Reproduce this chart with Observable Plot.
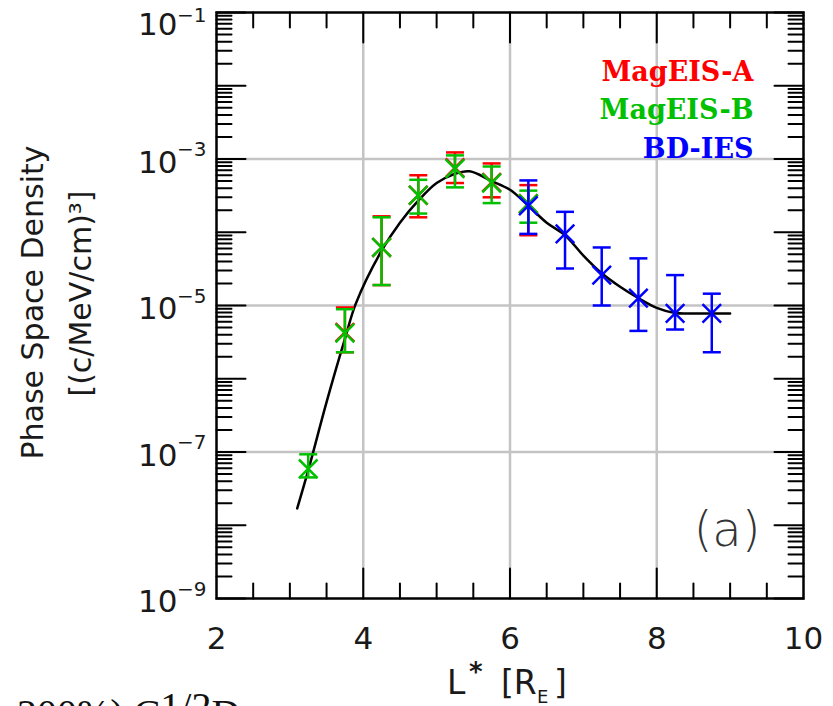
<!DOCTYPE html>
<html>
<head>
<meta charset="utf-8">
<script src="https://cdn.jsdelivr.net/npm/d3@7"></script>
<script src="https://cdn.jsdelivr.net/npm/@observablehq/plot@0.6"></script>
<style>
  html, body { margin: 0; padding: 0; background: #fff; overflow: hidden; }
  #wrap { position: relative; width: 833px; height: 706px; overflow: hidden; background: #fff; }
  #cut { position: absolute; left: 17px; top: 687px; font-family: "Liberation Serif", serif; font-size: 40px; line-height: 40px; white-space: nowrap; color: #111; }
  #cut span { vertical-align: 7px; }
</style>
</head>
<body>
<div id="wrap"><div id="chart"></div><div id="cut">200%) C<span>1/2</span>D</div></div>
<script>
// ---------- data ----------
const seriesNames  = ["MagEIS-A", "MagEIS-B", "BD-IES"];
const seriesColors = ["#ff0000", "#00c000", "#0000ff"];

// MagEIS-A
const lA   = [3.75, 4.25, 4.75, 5.25, 5.75, 6.25];
const psdA = [4.3e-6, 6.2e-5, 3.2e-4, 7.6e-4, 4.8e-4, 2.45e-4];
const loA  = [2.3e-6, 1.9e-5, 1.6e-4, 4.7e-4, 3.0e-4, 9.1e-5];
const hiA  = [9.4e-6, 1.65e-4, 6.0e-4, 1.23e-3, 8.7e-4, 4.4e-4];
// MagEIS-B
const lB   = [3.25, 3.75, 4.25, 4.75, 5.25, 5.75, 6.25];
const psdB = [5.9e-8, 4.2e-6, 6.2e-5, 3.2e-4, 7.4e-4, 4.7e-4, 2.45e-4];
const loB  = [4.5e-8, 2.3e-6, 1.9e-5, 1.8e-4, 4.1e-4, 2.5e-4, 1.35e-4];
const hiB  = [9.3e-8, 8.9e-6, 1.6e-4, 5.2e-4, 1.12e-3, 7.9e-4, 3.7e-4];
// BD-IES
const lC   = [6.25, 6.75, 7.25, 7.75, 8.25, 8.75];
const psdC = [2.3e-4, 9.5e-5, 2.6e-5, 1.26e-5, 7.8e-6, 7.8e-6];
const loC  = [9.5e-5, 3.2e-5, 1.0e-5, 4.5e-6, 4.7e-6, 2.3e-6];
const hiC  = [5.1e-4, 1.9e-4, 6.2e-5, 4.4e-5, 2.6e-5, 1.45e-5];

// fitted profile (black curve)
const fitL   = [3.1, 3.25, 3.5, 3.75, 3.9, 4.25, 4.5, 4.75, 5.0, 5.25, 5.45, 5.75, 6.0, 6.25, 6.5, 6.75, 7.0, 7.25, 7.5, 7.75, 8.0, 8.25, 8.5, 9.0];
const fitPSD = [1.7e-8, 5.6e-8, 4.8e-7, 3.5e-6, 1.07e-5, 5.6e-5, 1.35e-4, 2.7e-4, 4.7e-4, 6.3e-4, 6.8e-4, 5.0e-4, 3.8e-4, 2.3e-4, 1.35e-4, 9.1e-5, 4.8e-5, 2.75e-5, 1.8e-5, 1.26e-5, 9.3e-6, 7.9e-6, 7.8e-6, 7.8e-6];

// axes
const xDomain = [2, 10];
const yDomain = [1e-9, 1e-1];
const xTickLabels = [2, 4, 6, 8, 10];
const yTickLabels = [1e-1, 1e-3, 1e-5, 1e-7, 1e-9];
const yExponents  = ["\u22121", "\u22123", "\u22125", "\u22127", "\u22129"];
const xGrid = [4, 6, 8];
const yGrid = [1e-3, 1e-5, 1e-7];
const yTitle1 = "Phase Space Density";
const yTitle2 = "[(c/MeV/cm)\u00b3]";
const panelLabel = "(a)";

// ---------- derived tables ----------
const rows = (L, v, lo, hi) => L.map((l, i) => ({L: l, psd: v[i], lo: lo[i], hi: hi[i]}));
const sets = [rows(lA, psdA, loA, hiA), rows(lB, psdB, loB, hiB), rows(lC, psdC, loC, hiC)];
const fit = fitL.map((l, i) => ({L: l, psd: fitPSD[i]}));
const yLabelRows = yTickLabels.map((v, i) => ({v, exp: yExponents[i], top: v === yDomain[1]}));

const isDecade = t => Math.abs(Math.log10(t) - Math.round(Math.log10(t))) < 1e-6;
const yAll = d3.scaleLog().domain(yDomain).ticks();
const yMajor = yAll.filter(isDecade);
const yMinor = yAll.filter(t => !isDecade(t));
const xMinor = d3.range(2.5, 10, 0.5).filter(v => v % 2 !== 0);
const xMajor = xGrid;

const tickShape = {draw(ctx, l) { ctx.moveTo(0, 0); ctx.lineTo(0, -l); }};
const capShape = {draw(ctx, size) { const w = Math.sqrt(size / Math.PI); ctx.moveTo(-w, 0); ctx.lineTo(w, 0); }};

const SANS = "DejaVu Sans";
const INK = "#1a1a1a";
const tickOpts = {anchor: "start", shape: tickShape, stroke: "black", strokeWidth: 2};

const marks = [
  Plot.ruleX(xGrid, {stroke: "#c4c4c4", strokeWidth: 2.5}),
  Plot.ruleY(yGrid, {stroke: "#c4c4c4", strokeWidth: 2.5}),
  // ticks (inward, all four sides)
  Plot.vector(xMinor, {x: d => d, frameAnchor: "bottom", rotate: 0, length: 15, ...tickOpts}),
  Plot.vector(xMajor, {x: d => d, frameAnchor: "bottom", rotate: 0, length: 30, ...tickOpts}),
  Plot.vector(xMinor, {x: d => d, frameAnchor: "top", rotate: 180, length: 15, ...tickOpts}),
  Plot.vector(xMajor, {x: d => d, frameAnchor: "top", rotate: 180, length: 30, ...tickOpts}),
  Plot.vector(yMinor, {y: d => d, frameAnchor: "left", rotate: 90, length: 15, ...tickOpts}),
  Plot.vector(yMajor, {y: d => d, frameAnchor: "left", rotate: 90, length: 29, ...tickOpts}),
  Plot.vector(yMinor, {y: d => d, frameAnchor: "right", rotate: -90, length: 15, ...tickOpts}),
  Plot.vector(yMajor, {y: d => d, frameAnchor: "right", rotate: -90, length: 29, ...tickOpts}),
  Plot.frame({stroke: "black", strokeWidth: 2.5}),
  // fitted curve
  Plot.line(fit, {x: "L", y: "psd", curve: "catmull-rom", stroke: "black", strokeWidth: 2.5})
];

sets.forEach((data, k) => {
  const c = seriesColors[k];
  marks.push(
    Plot.ruleX(data, {x: "L", y1: "lo", y2: "hi", stroke: c, strokeWidth: 2.5}),
    Plot.dot(data, {x: "L", y: "lo", symbol: capShape, r: 9, fill: "none", stroke: c, strokeWidth: 2.5}),
    Plot.dot(data, {x: "L", y: "hi", symbol: capShape, r: 9, fill: "none", stroke: c, strokeWidth: 2.5}),
    Plot.dot(data, {x: "L", y: "psd", symbol: "times", r: 8.5, fill: "none", stroke: c, strokeWidth: 2.5})
  );
});

// legend text
seriesNames.forEach((name, k) => {
  marks.push(Plot.text([name], {
    frameAnchor: "top-right", textAnchor: "end", lineAnchor: "bottom",
    dx: -50, dy: 68 + k * 38.5, fill: seriesColors[k],
    fontFamily: "DejaVu Serif", fontWeight: "bold", fontSize: 27
  }));
});

// tick labels
const baseOpts = {y: "v", text: () => "10", frameAnchor: "left", textAnchor: "end", lineAnchor: "middle", dx: -39, fontSize: 31, fontFamily: SANS, fill: INK};
const expOpts  = {y: "v", text: "exp", frameAnchor: "left", textAnchor: "end", lineAnchor: "middle", dx: -10, fontSize: 20, fontFamily: SANS, fill: INK};
marks.push(
  Plot.text(xTickLabels, {x: d => d, text: d => String(d), frameAnchor: "bottom", lineAnchor: "top", dy: 28, fontSize: 31, fontFamily: SANS, fill: INK}),
  Plot.text(yLabelRows, {...baseOpts, filter: d => !d.top, dy: 4}),
  Plot.text(yLabelRows, {...expOpts, filter: d => !d.top, dy: -9}),
  Plot.text(yLabelRows, {...baseOpts, filter: d => d.top, dy: 13}),
  Plot.text(yLabelRows, {...expOpts, filter: d => d.top, dy: 3})
);

// y title (two lines, rotated)
marks.push(
  Plot.text([yTitle1], {frameAnchor: "left", rotate: -90, textAnchor: "middle", lineAnchor: "middle", dx: -183, dy: -3, fontSize: 30, fontFamily: SANS, fill: INK, ariaLabel: "ytitle1"}),
  Plot.text([yTitle2], {frameAnchor: "left", rotate: -90, textAnchor: "middle", lineAnchor: "middle", dx: -135, dy: -12, fontSize: 30, fontFamily: SANS, fill: INK, ariaLabel: "ytitle2"})
);

// x title pieces: L, *, [R, E (subscript), ]
marks.push(
  Plot.text(["L"], {frameAnchor: "bottom", textAnchor: "start", lineAnchor: "bottom", dx: -63, dy: 95, fontSize: 33, fontFamily: SANS, fill: INK}),
  Plot.text(["*"], {frameAnchor: "bottom", textAnchor: "start", lineAnchor: "bottom", dx: -41, dy: 82, fontSize: 26, fontFamily: SANS, fontWeight: "bold", fill: INK}),
  Plot.text(["[R"], {frameAnchor: "bottom", textAnchor: "start", lineAnchor: "bottom", dx: -9, dy: 95, fontSize: 33, fontFamily: SANS, fill: INK}),
  Plot.text(["E"], {frameAnchor: "bottom", textAnchor: "start", lineAnchor: "bottom", dx: 27, dy: 104, fontSize: 18, fontFamily: SANS, fill: INK}),
  Plot.text(["]"], {frameAnchor: "bottom", textAnchor: "start", lineAnchor: "bottom", dx: 44, dy: 95, fontSize: 33, fontFamily: SANS, fill: INK})
);

// panel label
marks.push(
  Plot.text([panelLabel], {frameAnchor: "bottom-right", textAnchor: "end", lineAnchor: "bottom", dx: -43, dy: -53, fontSize: 48, fontFamily: SANS, fontWeight: 300, fill: "#333"})
);

const chart = Plot.plot({
  width: 833,
  height: 706,
  marginTop: 12,
  marginBottom: 108,
  marginLeft: 216,
  marginRight: 30,
  x: {domain: xDomain, axis: null},
  y: {type: "log", domain: yDomain, axis: null},
  style: {background: "white", fontFamily: SANS, color: "black", overflow: "visible"},
  marks
});
document.getElementById("chart").appendChild(chart);

// stretch y-title lines to the lengths seen in the figure
const t1 = chart.querySelector('g[aria-label="ytitle1"] text');
const t2 = chart.querySelector('g[aria-label="ytitle2"] text');
if (t1) { t1.setAttribute("textLength", 380); t1.setAttribute("lengthAdjust", "spacingAndGlyphs"); }
if (t2) { t2.setAttribute("textLength", 288); t2.setAttribute("lengthAdjust", "spacingAndGlyphs"); }
</script>
</body>
</html>
